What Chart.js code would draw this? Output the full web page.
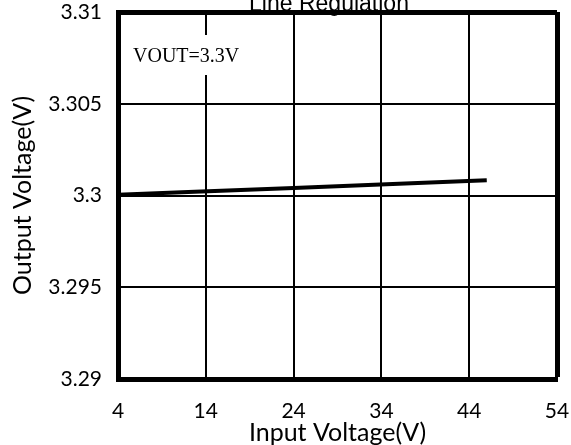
<!DOCTYPE html>
<html>
<head>
<meta charset="utf-8">
<script src="https://cdn.jsdelivr.net/npm/chart.js@4"></script>
<style>
  body { margin: 0; background: #fff; }
  canvas { display: block; }
</style>
</head>
<body>
<canvas id="myChart" width="571" height="445"></canvas>
<script>
// values
const inputV = [4, 12, 24, 36, 46];
const outputV = [3.30004, 3.30019, 3.30041, 3.30064, 3.30083];
const xTicks = [4, 14, 24, 34, 44, 54];
const yTicks = [3.29, 3.295, 3.3, 3.305, 3.31];
const chartTitle = 'Line Regulation';
const noteText = 'VOUT=3.3V';

const ctx = document.getElementById('myChart');
const tickFont = { family: 'Lato', size: 21 };

// title is cut off at the top in the original, so draw it by hand
const titlePlugin = {
    id: 'cutTitle',
    afterDraw(chart) {
        const c = chart.ctx;
        c.save();
        c.font = '23px "Liberation Sans"';
        c.fillStyle = '#000';
        c.textAlign = 'center';
        c.textBaseline = 'alphabetic';
        c.fillText(chartTitle, 329, 11);
        c.restore();
    }
};

// white box with the VOUT note over the grid
const notePlugin = {
    id: 'note',
    afterDatasetsDraw(chart) {
        const c = chart.ctx;
        const area = chart.chartArea;
        c.save();
        c.fillStyle = '#fff';
        c.fillRect(area.left + 6, 35, 126, 40);
        c.font = '20px "Liberation Serif"';
        c.fillStyle = '#000';
        c.textAlign = 'left';
        c.textBaseline = 'middle';
        c.fillText(noteText, area.left + 15, 57);
        c.restore();
    }
};

const myChart = new Chart(ctx, {
    type: 'scatter',
    data: {
        datasets: [{
            data: inputV.map((v, i) => ({ x: v, y: outputV[i] })),
            showLine: true,
            borderColor: '#000',
            borderWidth: 4,
            pointRadius: 0,
            tension: 0
        }]
    },
    options: {
        responsive: false,
        animation: false,
        layout: { padding: { top: 12, right: 14, left: 0, bottom: 0 } },
        plugins: {
            legend: { display: false },
            tooltip: { enabled: false }
        },
        scales: {
            x: {
                type: 'linear',
                min: 4,
                max: 54,
                afterBuildTicks: s => { s.ticks = xTicks.map(v => ({ value: v })); },
                afterFit: s => {
                    s.height = 66;
                    s.paddingLeft = 0;
                    s.paddingRight = 0;
                },
                ticks: { color: '#000', font: tickFont, padding: 20, maxRotation: 0 },
                grid: {
                    color: '#000',
                    drawTicks: false,
                    lineWidth: c => (c.tick && c.tick.value === 54 ? 5 : 2)
                },
                border: { color: '#000', width: 5 },
                title: {
                    display: true,
                    text: 'Input Voltage(V)',
                    color: '#000',
                    font: { family: 'Lato', size: 25, lineHeight: 1 },
                    padding: { top: 0, bottom: 0 }
                }
            },
            y: {
                type: 'linear',
                min: 3.29,
                max: 3.31,
                afterBuildTicks: s => { s.ticks = yTicks.map(v => ({ value: v })); },
                afterFit: s => {
                    s.width = 118;
                    s.paddingTop = 0;
                    s.paddingBottom = 0;
                },
                ticks: {
                    color: '#000',
                    font: tickFont,
                    padding: 16,
                    callback: v => parseFloat(v.toFixed(3)).toString()
                },
                grid: {
                    color: '#000',
                    drawTicks: false,
                    lineWidth: c => (c.tick && Math.abs(c.tick.value - 3.31) < 1e-9 ? 5 : 2)
                },
                border: { color: '#000', width: 5 },
                title: {
                    display: true,
                    text: 'Output Voltage(V)',
                    color: '#000',
                    font: { family: 'Lato', size: 25, lineHeight: 1 },
                    padding: { top: 10, bottom: 0 }
                }
            }
        }
    },
    plugins: [titlePlugin, notePlugin]
});
</script>
</body>
</html>
